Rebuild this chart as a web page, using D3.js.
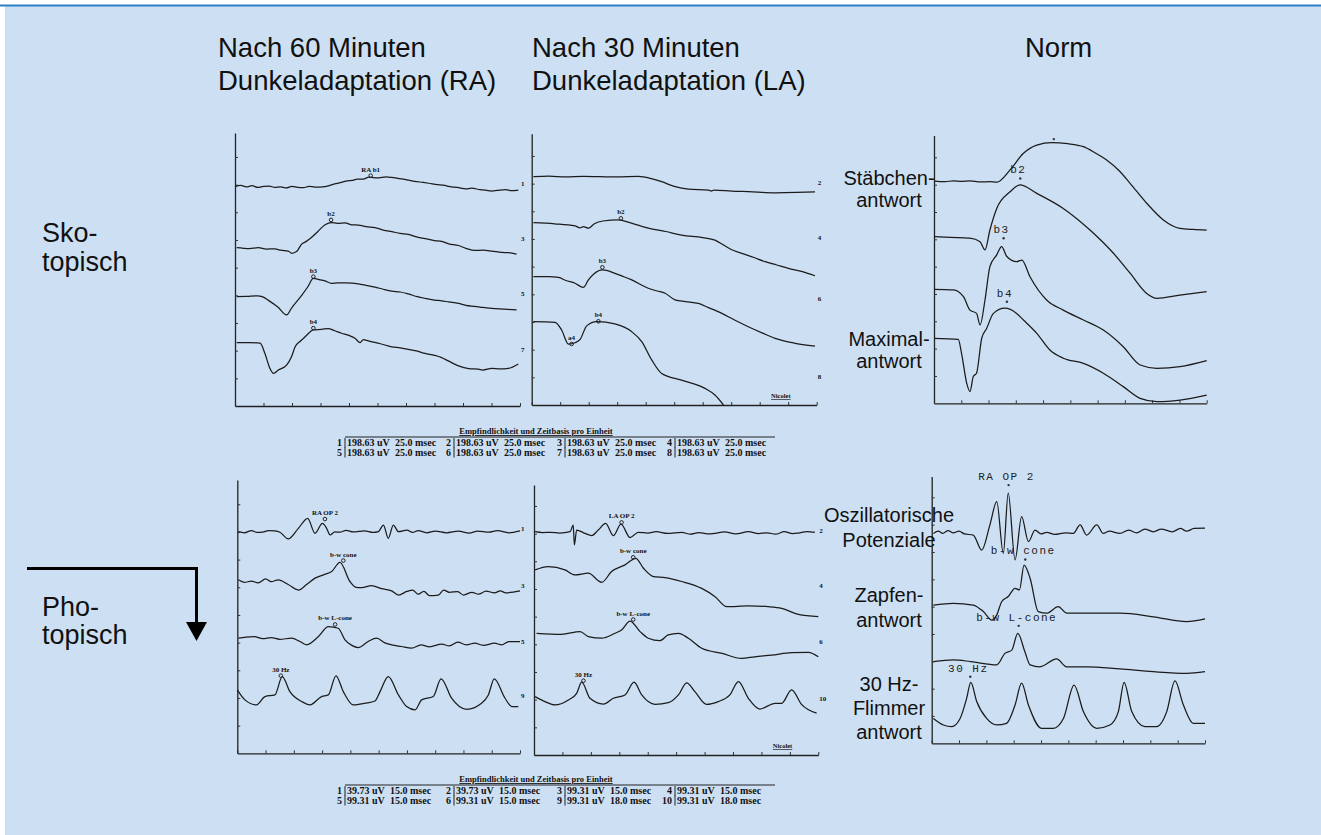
<!DOCTYPE html>
<html>
<head>
<meta charset="utf-8">
<title>ERG Dunkeladaptation</title>
<script src="https://d3js.org/d3.v7.min.js"></script>
<style>
  body { margin: 0; background: #fff; }
  svg { display: block; }
  .lbl { font-family: "Liberation Sans", Arial, sans-serif; fill: #111; }
  .tiny { font-family: "Liberation Serif", serif; font-weight: bold; fill: #111; }
  .mono { font-family: "Liberation Mono", "DejaVu Sans Mono", monospace; fill: #222; }
</style>
</head>
<body>
<script>
var w = 1321, h = 835;

// all traces: [time (divisions), amplitude (divisions above baseline axis)]
// skotopisch, RA (60 min)
var raScot1 = [[0,7.93],[0.2,7.97],[0.4,7.92],[0.6,7.96],[0.8,7.9],[1.0,7.94],[1.2,7.95],[1.4,7.9],[1.6,7.92],[1.8,7.88],[2.0,7.94],[2.2,7.9],[2.4,7.89],[2.6,7.94],[2.8,7.91],[3.16,7.93],[3.5,8.03],[3.7,8.07],[3.9,8.13],[4.1,8.15],[4.3,8.2],[4.5,8.2],[4.7,8.27],[5.0,8.24],[5.3,8.28],[5.5,8.26],[5.7,8.23],[5.9,8.2],[6.1,8.16],[6.3,8.12],[6.6,8.08],[6.8,8.05],[7.1,8.0],[7.3,7.98],[7.6,7.92],[7.8,7.9],[8.1,7.85],[8.3,7.87],[8.6,7.82],[8.8,7.8],[9.0,7.77],[9.2,7.79],[9.5,7.82],[9.7,7.78],[9.94,7.8]];
var raScot3 = [[0.06,5.72],[0.3,5.7],[0.5,5.69],[0.82,5.72],[1.1,5.67],[1.4,5.68],[1.6,5.63],[1.87,5.6],[1.99,5.52],[2.16,5.58],[2.34,5.85],[2.5,5.95],[2.69,6.1],[2.9,6.3],[3.16,6.55],[3.39,6.63],[3.6,6.6],[3.86,6.62],[4.1,6.55],[4.33,6.54],[4.6,6.48],[4.91,6.45],[5.2,6.36],[5.5,6.3],[5.8,6.24],[6.08,6.2],[6.4,6.1],[6.67,6.05],[7.0,5.98],[7.25,5.95],[7.5,5.86],[7.84,5.8],[8.1,5.7],[8.42,5.62],[8.7,5.63],[9.01,5.6],[9.36,5.55],[9.6,5.54],[9.88,5.49]];
var raScot5 = [[0.06,3.95],[0.4,3.96],[0.8,3.98],[0.95,3.95],[1.2,3.8],[1.5,3.58],[1.81,3.29],[1.99,3.55],[2.34,4.0],[2.55,4.3],[2.75,4.61],[2.95,4.57],[3.16,4.52],[3.39,4.43],[3.6,4.45],[3.86,4.45],[4.1,4.44],[4.33,4.41],[4.6,4.36],[4.91,4.3],[5.2,4.22],[5.5,4.15],[5.8,4.12],[6.08,4.05],[6.4,3.95],[6.67,3.89],[7.0,3.83],[7.25,3.8],[7.5,3.76],[7.84,3.71],[8.1,3.64],[8.42,3.6],[8.7,3.56],[9.01,3.53],[9.47,3.5],[9.88,3.47]];
var raScot7 = [[0.06,2.29],[0.5,2.29],[0.88,2.27],[1.05,1.9],[1.23,1.35],[1.35,1.18],[1.52,1.3],[1.81,1.48],[1.99,1.8],[2.11,2.14],[2.3,2.35],[2.46,2.5],[2.75,2.75],[3.04,2.77],[3.27,2.8],[3.5,2.72],[3.74,2.63],[4.0,2.55],[4.21,2.45],[4.39,2.29],[4.5,2.4],[4.68,2.35],[5.1,2.25],[5.5,2.14],[5.8,2.1],[6.08,2.05],[6.4,1.98],[6.67,1.9],[7.0,1.83],[7.25,1.75],[7.5,1.62],[7.84,1.45],[8.2,1.35],[8.54,1.33],[8.7,1.3],[9.01,1.36],[9.3,1.34],[9.59,1.36],[9.94,1.52]];
// skotopisch, LA (30 min)
var laScot2 = [[0.06,8.25],[0.6,8.27],[1.2,8.24],[1.8,8.26],[2.4,8.25],[3.0,8.24],[3.74,8.26],[4.2,8.18],[4.56,8.07],[5.0,7.9],[5.5,7.8],[6.2,7.77],[6.3,7.73],[6.4,7.77],[7.02,7.73],[7.6,7.71],[8.54,7.67],[9.3,7.68],[9.94,7.7]];
var laScot4 = [[0.06,6.59],[0.8,6.55],[1.52,6.47],[1.7,6.4],[1.81,6.45],[1.99,6.39],[2.2,6.55],[2.5,6.65],[3.04,6.69],[3.5,6.57],[4.09,6.39],[4.7,6.27],[5.26,6.14],[6.0,6.05],[6.43,5.96],[6.73,5.78],[7.0,5.62],[7.37,5.48],[7.8,5.33],[8.19,5.18],[8.6,5.06],[9.01,4.94],[9.5,4.82],[9.94,4.67]];
var laScot6 = [[0.06,4.64],[0.58,4.64],[0.94,4.61],[1.2,4.5],[1.52,4.4],[1.81,4.25],[1.99,4.52],[2.2,4.75],[2.48,4.88],[2.92,4.76],[3.2,4.65],[3.51,4.52],[4.09,4.22],[4.4,4.12],[4.68,4.04],[5.03,3.8],[5.4,3.74],[5.85,3.67],[6.2,3.52],[6.67,3.31],[7.1,3.08],[7.6,2.83],[8.1,2.6],[8.54,2.41],[9.2,2.24],[9.94,2.13]];
var laScot8 = [[0.06,3.01],[0.82,2.99],[1.05,2.71],[1.29,2.2],[1.52,2.25],[1.7,2.37],[1.93,2.86],[2.28,3.01],[2.92,2.93],[3.51,2.65],[3.86,2.29],[4.21,1.63],[4.56,1.14],[5.26,0.9],[6.08,0.6],[6.43,0.36],[6.73,0]];
// skotopisch, Norm
var normRod = [[0,8.13],[0.4,8.11],[0.71,8.14],[1.0,8.12],[1.32,8.14],[1.7,8.1],[2.05,8.11],[2.3,8.09],[2.79,8.54],[3.28,9.15],[3.77,9.45],[4.32,9.54],[4.9,9.5],[5.48,9.39],[5.9,9.17],[6.33,8.9],[6.8,8.5],[7.19,8.05],[7.8,7.32],[8.41,6.71],[9.02,6.4],[9.5,6.36],[10,6.34]];
var normB2 = [[0,6.1],[0.6,6.07],[1.32,6.04],[1.69,5.91],[1.87,5.61],[2.05,6.34],[2.3,7.13],[2.79,7.74],[3.15,7.99],[3.77,7.68],[4.74,7.13],[5.72,6.34],[6.58,5.49],[7.19,4.76],[7.8,4.02],[8.17,3.84],[9.02,3.96],[10,4.09]];
var normB3 = [[0,4.17],[0.71,4.15],[1.08,3.9],[1.32,3.41],[1.56,3.29],[1.69,2.87],[1.87,3.78],[2.05,5.0],[2.3,5.43],[2.48,5.73],[2.67,5.37],[3.03,5.18],[3.22,5.24],[3.52,4.63],[4.13,3.78],[4.74,3.41],[5.48,3.05],[6.21,2.68],[6.94,2.07],[7.56,1.4],[8.17,1.28],[9.02,1.34],[10,1.56]];
var normMax = [[0,2.38],[0.89,2.34],[1.01,1.83],[1.2,0.73],[1.32,0.43],[1.44,0.98],[1.56,1.1],[1.75,2.38],[1.93,2.74],[2.18,3.29],[2.6,3.48],[3.03,3.29],[3.28,3.05],[3.77,2.56],[4.25,1.95],[4.74,1.65],[5.48,1.46],[6.21,1.1],[6.94,0.61],[7.56,0.18],[8.17,0.06],[9.02,0.12],[10,0.3]];
// photopisch, RA
var raPhot1 = [[0.04,8.01],[0.25,7.97],[0.5,8.05],[0.7,7.98],[0.9,7.99],[1.1,8.05],[1.33,8.04],[1.51,7.99],[1.8,7.75],[2.16,8.13],[2.49,8.49],[2.75,7.95],[3.01,8.31],[3.16,8.13],[3.28,7.89],[3.45,8.0],[3.63,7.99],[3.85,8.06],[4.1,8.0],[4.5,8.04],[4.8,7.98],[4.99,8.01],[5.17,8.25],[5.34,7.77],[5.52,8.25],[5.7,8.01],[6.0,8.07],[6.2,7.98],[6.4,8.05],[6.7,7.97],[7.0,8.03],[7.4,7.97],[7.82,8.03],[8.2,7.96],[8.5,8.03],[8.9,7.99],[9.2,8.05],[9.6,7.97],[10,8.04]];
var raPhot3 = [[0.04,6.27],[0.25,6.18],[0.5,6.22],[0.74,6.16],[1.0,6.3],[1.2,6.2],[1.45,6.27],[1.8,6.1],[2.16,5.9],[2.45,6.1],[2.75,6.33],[3.05,6.45],[3.34,6.57],[3.63,6.9],[3.99,6.2],[4.2,6.0],[4.4,5.99],[4.75,6.06],[5.1,5.95],[5.46,5.87],[5.7,5.72],[6.0,5.85],[6.2,5.9],[6.4,5.75],[6.6,5.85],[6.8,5.7],[7.11,5.72],[7.3,5.9],[7.5,5.82],[7.8,5.84],[8.0,5.72],[8.3,5.82],[8.53,5.75],[8.8,5.86],[9.1,5.8],[9.3,5.87],[9.5,5.8],[10,5.87]];
var raPhot5 = [[0.04,4.16],[0.3,4.2],[0.6,4.22],[0.9,4.14],[1.2,4.18],[1.5,4.12],[1.92,4.16],[2.2,4.05],[2.45,3.92],[2.87,4.22],[3.22,4.58],[3.57,4.52],[3.81,4.1],[4.05,3.9],[4.28,3.82],[4.63,4.04],[4.93,4.16],[5.2,4.0],[5.46,3.92],[5.8,3.86],[6.17,3.8],[6.5,3.92],[6.8,3.85],[7.23,3.95],[7.5,3.88],[7.8,4.02],[8.1,3.92],[8.4,3.98],[8.7,3.9],[9.1,3.98],[9.35,3.92],[9.6,4.04],[10,4.04]];
var raPhot9 = [[0,2.29],[0.27,1.93],[0.68,1.75],[0.98,2.05],[1.33,2.11],[1.59,2.77],[1.86,2.23],[2.28,1.87],[2.57,1.75],[2.98,2.05],[3.22,2.11],[3.49,2.8],[3.75,2.23],[4.1,1.75],[4.52,1.81],[4.87,1.89],[5.05,2.23],[5.34,2.77],[5.7,2.11],[5.99,1.69],[6.29,1.57],[6.52,1.93],[6.93,2.05],[7.21,2.69],[7.58,1.99],[8.11,1.59],[8.64,1.81],[8.88,2.11],[9.09,2.69],[9.47,1.99],[9.71,1.69],[9.94,1.69]];
// photopisch, LA
var laPhot2 = [[0.04,8.07],[0.3,8.04],[0.6,8.05],[0.9,8.02],[1.27,8.07],[1.38,8.31],[1.42,7.59],[1.5,8.13],[1.79,8.01],[2.03,7.93],[2.26,8.13],[2.52,8.37],[2.79,7.93],[3.06,8.34],[3.38,7.86],[3.67,8.05],[4.0,8.02],[4.3,8.07],[4.7,8.01],[5.19,8.05],[5.5,7.98],[5.8,8.04],[6.1,7.99],[6.37,8.01],[6.7,8.06],[7.1,7.99],[7.54,8.07],[7.9,8.0],[8.2,8.03],[8.5,7.98],[8.8,8.07],[9.1,8.0],[9.3,8.02],[9.6,8.07],[9.88,8.05]];
var laPhot4 = [[0.04,6.69],[0.5,6.81],[1.09,6.69],[1.44,6.51],[1.91,6.57],[2.38,6.24],[2.73,6.63],[3.2,6.87],[3.58,7.11],[3.85,6.75],[4.2,6.45],[4.61,6.41],[5.19,6.27],[5.9,6.02],[6.37,5.72],[6.78,5.36],[7.54,5.39],[8.24,5.36],[8.71,5.3],[9.3,5.08],[10,5.0]];
var laPhot6 = [[0.09,4.4],[0.97,4.36],[1.62,4.46],[1.91,4.28],[2.38,4.22],[2.85,4.4],[3.08,4.52],[3.38,4.84],[3.73,4.46],[4.02,4.22],[4.43,4.13],[4.72,4.34],[5.08,4.4],[5.43,4.22],[5.9,3.86],[6.62,3.67],[7.3,3.49],[7.77,3.55],[8.36,3.61],[9.06,3.7],[9.65,3.71],[10,3.55]];
var laPhot10 = [[0.04,2.11],[0.39,1.93],[0.74,1.81],[1.21,1.99],[1.5,2.23],[1.68,2.63],[1.97,2.05],[2.44,1.84],[2.79,2.05],[3.2,2.17],[3.52,2.63],[3.79,2.17],[4.26,1.83],[4.72,1.89],[5.08,2.17],[5.37,2.61],[5.66,2.29],[6.07,1.83],[6.48,1.93],[6.89,2.17],[7.19,2.65],[7.54,2.05],[7.94,1.66],[8.48,1.87],[8.71,1.87],[9.06,2.35],[9.41,1.83],[9.94,1.51]];
// photopisch, Norm
var normOp = [[0.06,7.68],[0.25,7.76],[0.4,7.68],[0.6,7.78],[0.79,7.7],[1.0,7.76],[1.2,7.66],[1.52,7.62],[1.83,7.07],[2.13,7.99],[2.38,8.84],[2.62,6.95],[2.8,9.15],[3.05,6.71],[3.29,8.29],[3.54,7.38],[3.78,7.8],[4.0,7.66],[4.21,7.72],[4.5,7.64],[4.9,7.7],[5.18,7.68],[5.43,7.99],[5.67,7.62],[6.04,7.99],[6.28,7.68],[6.5,7.76],[6.89,7.68],[7.2,7.8],[7.5,7.7],[7.8,7.84],[8.11,7.74],[8.4,7.84],[8.8,7.74],[9.1,7.86],[9.33,7.76],[9.6,7.86],[10,7.87]];
var normCone = [[0.06,5.06],[0.79,5.12],[1.52,5.06],[1.89,4.82],[2.2,4.51],[2.38,4.7],[2.56,5.18],[2.8,5.37],[3.05,5.67],[3.21,5.61],[3.38,6.52],[3.6,6.04],[3.9,4.82],[4.21,4.76],[4.63,5.0],[4.94,4.76],[5.67,4.76],[6.89,4.76],[8.11,4.63],[9.33,4.45],[10,4.55]];
var normLCone = [[0.06,2.99],[0.79,3.05],[1.43,2.99],[2.38,2.87],[2.68,3.29],[2.93,3.41],[3.15,4.02],[3.41,3.35],[3.6,2.87],[3.96,2.8],[4.57,3.09],[4.94,2.8],[5.67,2.8],[6.89,2.72],[8.11,2.62],[9.33,2.56],[10,2.62]];
var normFlicker = [[0.06,0.91],[0.43,0.67],[0.73,0.61],[1.04,0.91],[1.28,1.65],[1.43,2.23],[1.65,1.52],[2.01,0.91],[2.38,0.67],[2.74,0.73],[3.05,1.4],[3.29,2.2],[3.54,1.4],[4.02,0.55],[4.45,0.55],[4.82,0.91],[5.21,2.13],[5.55,1.16],[6.04,0.55],[6.52,0.67],[6.83,1.16],[7.04,2.23],[7.32,1.16],[7.8,0.61],[8.23,0.61],[8.6,1.16],[8.9,2.28],[9.21,1.4],[9.57,0.73],[10,0.73]];

// channel numbers printed at the right end of each trace
var raScotNums = ["1", "3", "5", "7"];
var laScotNums = ["2", "4", "6", "8"];
var raPhotNums = ["1", "3", "5", "9"];
var laPhotNums = ["2", "4", "6", "10"];

// calibration tables (channel, sensitivity, time base)
var scotChannels = ["1", "2", "3", "4", "5", "6", "7", "8"];
var scotSens = ["198.63 uV", "198.63 uV", "198.63 uV", "198.63 uV", "198.63 uV", "198.63 uV", "198.63 uV", "198.63 uV"];
var scotTime = ["25.0 msec", "25.0 msec", "25.0 msec", "25.0 msec", "25.0 msec", "25.0 msec", "25.0 msec", "25.0 msec"];
var photChannels = ["1", "2", "3", "4", "5", "6", "9", "10"];
var photSens = ["39.73 uV", "39.73 uV", "99.31 uV", "99.31 uV", "99.31 uV", "99.31 uV", "99.31 uV", "99.31 uV"];
var photTime = ["15.0 msec", "15.0 msec", "15.0 msec", "15.0 msec", "15.0 msec", "15.0 msec", "18.0 msec", "18.0 msec"];

var svg = d3.select("body").append("svg")
    .attr("width", w)
    .attr("height", h);

// background + top rule
svg.append("rect").attr("x", 5).attr("y", 5).attr("width", w - 5).attr("height", h - 5).attr("fill", "#cde0f3");
svg.append("line").attr("x1", 0).attr("x2", w).attr("y1", 5.5).attr("y2", 5.5)
    .attr("stroke", "#2b7fc6").attr("stroke-width", 2);

// panels (layout only, traces come from the arrays above)
var panels = [
  { x0: 235, x1: 520, yb: 406, div: 27.67, top: 9.87, traces: [raScot1, raScot3, raScot5, raScot7],
    nums: raScotNums, numV: [8.06, 6.07, 4.08, 2.06], style: "print",
    marks: [["RA b1", 4.76, 8.47], ["b2", 3.37, 6.87], ["b3", 2.75, 4.82], ["b4", 2.75, 2.96]] },
  { x0: 531.7, x1: 816.7, yb: 405, div: 27.67, top: 9.8, traces: [laScot2, laScot4, laScot6, laScot8],
    nums: laScotNums, numV: [8.06, 6.07, 3.85, 1.05], style: "print", nicolet: true,
    marks: [["b2", 3.13, 6.89], ["b3", 2.48, 5.12], ["b4", 2.34, 3.17], ["a4", 1.4, 2.35]] },
  { x0: 934, x1: 1206.7, yb: 403.3, div: 27.33, top: 9.8, traces: [normRod, normB2, normB3, normMax],
    style: "mono",
    marks: [["", 4.32, 9.85], ["b2", 3.09, 8.41], ["b3", 2.48, 6.22], ["b4", 2.6, 3.9]] },
  { x0: 237.3, x1: 520, yb: 753.3, div: 27.67, top: 9.88, traces: [raPhot1, raPhot3, raPhot5, raPhot9],
    nums: raPhotNums, numV: [8.14, 6.08, 4.06, 2.11], style: "print",
    marks: [["RA OP 2", 3.1, 8.61], ["b-w cone", 3.75, 7.11], ["b-w L-cone", 3.46, 4.8], ["30 Hz", 1.54, 2.95]] },
  { x0: 534, x1: 818.3, yb: 755, div: 27.67, top: 9.76, traces: [laPhot2, laPhot4, laPhot6, laPhot10],
    nums: laPhotNums, numV: [8.13, 6.14, 4.12, 2.06], style: "print", nicolet: true,
    marks: [["LA OP 2", 3.08, 8.55], ["b-w cone", 3.49, 7.29], ["b-w L-cone", 3.49, 5.04], ["30 Hz", 1.74, 2.83]] },
  { x0: 931.7, x1: 1205, yb: 743.3, div: 27.33, top: 9.76, traces: [normOp, normCone, normLCone, normFlicker],
    style: "mono",
    marks: [["RA OP 2", 2.74, 9.63], ["b-w cone", 3.35, 6.91], ["b-w L-cone", 3.11, 4.48], ["30 Hz", 1.34, 2.62]] }
];

panels.forEach(function(p) {
    var x = d3.scaleLinear().domain([0, 10]).range([p.x0, p.x1]);
    var y = d3.scaleLinear().domain([0, 10]).range([p.yb, p.yb - 10 * p.div]);
    var yAxisScale = d3.scaleLinear().domain([0, p.top]).range([p.yb, y(p.top)]);
    var g = svg.append("g");

    var xa = g.append("g")
        .attr("transform", "translate(0," + p.yb + ")")
        .call(d3.axisBottom(x).tickValues(d3.range(0, 11)).tickSize(-3).tickSizeOuter(0).tickFormat(""));
    var ya = g.append("g")
        .attr("transform", "translate(" + p.x0 + ",0)")
        .call(d3.axisRight(yAxisScale).tickValues(d3.range(1, 10)).tickSize(3).tickSizeOuter(0).tickFormat(""));
    [xa, ya].forEach(function(a) {
        a.select(".domain").attr("stroke", "#222").attr("stroke-width", 1.3);
        a.selectAll(".tick line").attr("stroke", "#333").attr("stroke-width", 1);
    });

    var line = d3.line()
        .curve(d3.curveMonotoneX)
        .x(function(d) { return x(d[0]); })
        .y(function(d) { return y(d[1]); });

    g.selectAll("path.trace")
        .data(p.traces)
        .enter()
        .append("path")
        .attr("class", "trace")
        .attr("d", line)
        .attr("fill", "none")
        .attr("stroke", "#1b1b1b")
        .attr("stroke-width", 1.25)
        .attr("stroke-linejoin", "round");

    p.marks.forEach(function(m) {
        if (p.style === "mono") {
            g.append("text").attr("class", "mono")
                .attr("x", x(m[1])).attr("y", y(m[2]))
                .attr("text-anchor", "middle")
                .attr("font-size", 11).attr("letter-spacing", 1.5)
                .text(m[0]);
            g.append("circle").attr("cx", x(m[1]) + 2).attr("cy", y(m[2]) + 5).attr("r", 1.2).attr("fill", "#333");
        } else {
            g.append("text").attr("class", "tiny")
                .attr("x", x(m[1])).attr("y", y(m[2]))
                .attr("text-anchor", "middle")
                .attr("font-size", 7)
                .text(m[0]);
            g.append("circle").attr("cx", x(m[1])).attr("cy", y(m[2]) + 4).attr("r", 1.8)
                .attr("fill", "none").attr("stroke", "#222").attr("stroke-width", 1);
        }
    });

    if (p.nums) {
        g.selectAll("text.num")
            .data(p.nums)
            .enter()
            .append("text")
            .attr("class", "tiny num")
            .attr("x", x(10) + 1)
            .attr("y", function(d, i) { return y(p.numV[i]) + 3; })
            .attr("font-size", 7)
            .text(function(d) { return d; });
    }
    if (p.nicolet) {
        g.append("text").attr("class", "tiny")
            .attr("x", x(8.4)).attr("y", y(0.25))
            .attr("font-size", 6.5)
            .attr("text-decoration", "underline")
            .text("Nicolet");
    }
});

// calibration tables
function drawTable(yTitle, chans, sens, times, timeOffset) {
    var colBars = [345, 454, 565, 675];
    var g = svg.append("g");
    g.append("text").attr("class", "tiny")
        .attr("x", 536).attr("y", yTitle)
        .attr("text-anchor", "middle").attr("font-size", 8.5)
        .attr("text-decoration", "underline")
        .text("Empfindlichkeit und Zeitbasis pro Einheit");
    g.append("line").attr("x1", 345).attr("x2", 775).attr("y1", yTitle + 3).attr("y2", yTitle + 3)
        .attr("stroke", "#222").attr("stroke-width", 1);
    chans.forEach(function(c, i) {
        var col = i % 4, row = Math.floor(i / 4);
        var bx = colBars[col], by = yTitle + 12 + row * 9.5;
        g.append("line").attr("x1", bx).attr("x2", bx).attr("y1", by - 8).attr("y2", by + 2)
            .attr("stroke", "#222").attr("stroke-width", 1);
        g.append("text").attr("class", "tiny").attr("x", bx - 3).attr("y", by)
            .attr("text-anchor", "end").attr("font-size", 10).text(c);
        g.append("text").attr("class", "tiny").attr("x", bx + 2).attr("y", by)
            .attr("font-size", 10).text(sens[i]);
        g.append("text").attr("class", "tiny").attr("x", bx + 2 + timeOffset).attr("y", by)
            .attr("font-size", 10).text(times[i]);
    });
}
drawTable(434, scotChannels, scotSens, scotTime, 48);
drawTable(782, photChannels, photSens, photTime, 43);

// headings
function label(txt, x, y, size, anchor) {
    svg.append("text").attr("class", "lbl")
        .attr("x", x).attr("y", y)
        .attr("font-size", size)
        .attr("text-anchor", anchor || "start")
        .text(txt);
}
label("Nach 60 Minuten", 218, 57, 27.5);
label("Dunkeladaptation (RA)", 218, 90, 27.5);
label("Nach 30 Minuten", 532, 57, 27.5);
label("Dunkeladaptation (LA)", 532, 90, 27.5);
label("Norm", 1025, 57, 27.5);
label("Sko-", 42, 242, 27);
label("topisch", 42, 271, 27);
label("Pho-", 42, 616, 27);
label("topisch", 42, 644, 27);

label("Stäbchen-", 889, 185, 20, "middle");
label("antwort", 889, 207, 20, "middle");
label("Maximal-", 889, 346, 20, "middle");
label("antwort", 889, 368, 20, "middle");
label("Oszillatorische", 889, 522, 20, "middle");
label("Potenziale", 889, 547, 20, "middle");
label("Zapfen-", 889, 602, 20, "middle");
label("antwort", 889, 627, 20, "middle");
label("30 Hz-", 889, 691, 20, "middle");
label("Flimmer", 889, 715, 20, "middle");
label("antwort", 889, 739, 20, "middle");

// arrow from skotopic to photopic
svg.append("path")
    .attr("d", "M27,568.5 H196.5 V624")
    .attr("fill", "none").attr("stroke", "#000").attr("stroke-width", 3);
svg.append("path")
    .attr("d", "M186,622 L207,622 L196.5,641 Z")
    .attr("fill", "#000");
</script>
</body>
</html>
